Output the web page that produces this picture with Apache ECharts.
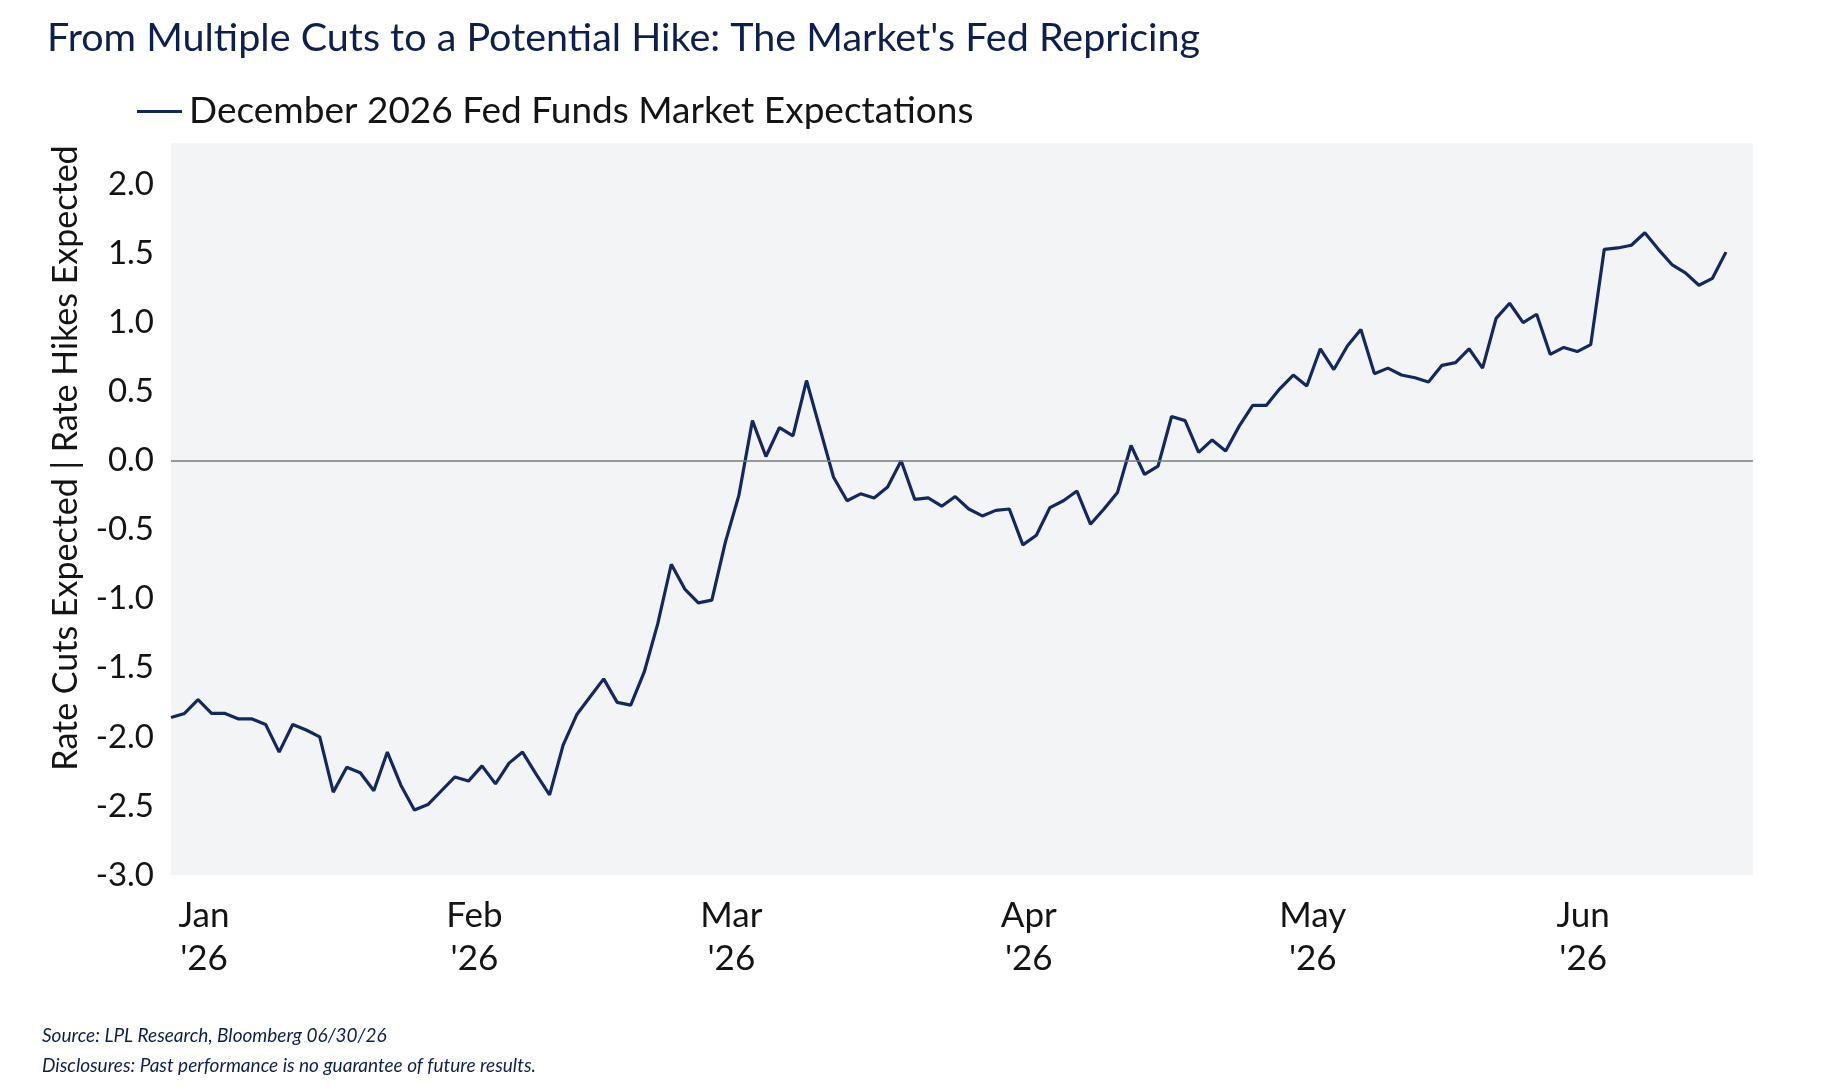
<!DOCTYPE html>
<html>
<head>
<meta charset="utf-8">
<title>From Multiple Cuts to a Potential Hike</title>
<script src="https://cdn.jsdelivr.net/npm/echarts@6.0.0/dist/echarts.min.js"></script>
<style>
  html, body { margin: 0; padding: 0; background: #ffffff; }
  #chart { width: 1826px; height: 1090px; }
</style>
</head>
<body>
<div id="chart"></div>
<script>
// trading days (business days) per month, 2026
const janDays = [2, 5, 6, 7, 8, 9, 12, 13, 14, 15, 16, 20, 21, 22, 23, 26, 27, 28, 29, 30];
const febDays = [2, 3, 4, 5, 6, 9, 10, 11, 12, 13, 17, 18, 19, 20, 23, 24, 25, 26, 27];
const marDays = [2, 3, 4, 5, 6, 9, 10, 11, 12, 13, 16, 17, 18, 19, 20, 23, 24, 25, 26, 27, 30, 31];
const aprDays = [1, 2, 6, 7, 8, 9, 10, 13, 14, 15, 16, 17, 20, 21, 22, 23, 24, 27, 28, 29, 30];
const mayDays = [1, 4, 5, 6, 7, 8, 11, 12, 13, 14, 15, 18, 19, 20, 21, 22, 26, 27, 28, 29];
const junDays = [1, 2, 3, 4, 5, 8, 9, 10, 11, 12, 15, 16, 17, 18, 22, 23];

const monthNames = ['Jan', 'Feb', 'Mar', 'Apr', 'May', 'Jun'];
const yearLabel = "'26";

// December 2026 fed funds: number of 25bp moves priced
const fedExpectations = [
  -1.86, -1.83, -1.73, -1.83, -1.83, -1.87, -1.87, -1.91, -2.11, -1.91,
  -1.95, -2.00, -2.40, -2.22, -2.26, -2.39, -2.11, -2.35, -2.53, -2.49,
  -2.39, -2.29, -2.32, -2.21, -2.34, -2.19, -2.11, -2.27, -2.42, -2.06,
  -1.84, -1.71, -1.58, -1.75, -1.77, -1.53, -1.18, -0.75, -0.93, -1.03,
  -1.01, -0.59, -0.25, 0.29, 0.03, 0.24, 0.18, 0.58, 0.23, -0.12,
  -0.29, -0.24, -0.27, -0.19, 0.00, -0.28, -0.27, -0.33, -0.26, -0.35,
  -0.40, -0.36, -0.35, -0.61, -0.54, -0.34, -0.29, -0.22, -0.46, -0.35,
  -0.23, 0.11, -0.10, -0.04, 0.32, 0.29, 0.06, 0.15, 0.07, 0.25,
  0.40, 0.40, 0.52, 0.62, 0.54, 0.81, 0.66, 0.83, 0.95, 0.63,
  0.67, 0.62, 0.60, 0.57, 0.69, 0.71, 0.81, 0.67, 1.03, 1.14,
  1.00, 1.06, 0.77, 0.82, 0.79, 0.84, 1.53, 1.54, 1.56, 1.65,
  1.53, 1.42, 1.36, 1.27, 1.32, 1.51
];

const pad = (n) => String(n).padStart(2, '0');
const tradingDates = [janDays, febDays, marDays, aprDays, mayDays, junDays]
  .flatMap((days, m) => days.map((d) => `2026-${pad(m + 1)}-${pad(d)}`));

const FONT = 'Lato';
const NAVY = '#0d1f4e';
const TEXT = '#141414';

const chart = echarts.init(document.getElementById('chart'));

const option = {
  animation: false,
  textStyle: { fontFamily: FONT },
  title: {
    text: "From Multiple Cuts to a Potential Hike: The Market's Fed Repricing",
    left: 42,
    top: 13,
    textStyle: { fontFamily: FONT, fontSize: 39.5, fontWeight: 'normal', color: NAVY }
  },
  legend: {
    left: 137,
    top: 93,
    padding: 0,
    icon: 'rect',
    itemWidth: 45,
    itemHeight: 3,
    itemGap: 10,
    textStyle: { fontFamily: FONT, fontSize: 37, color: TEXT, padding: [0, 0, 0, 2] },
    data: ['December 2026 Fed Funds Market Expectations']
  },
  grid: {
    left: 171,
    right: 73,
    top: 143,
    bottom: 215,
    show: true,
    backgroundColor: '#f3f4f6',
    borderWidth: 0
  },
  xAxis: {
    type: 'category',
    boundaryGap: false,
    data: tradingDates,
    axisLine: { show: false },
    axisTick: { show: false },
    splitLine: { show: false },
    axisLabel: {
      interval: (idx, value) => idx === 0 || value.slice(5, 7) !== tradingDates[idx - 1].slice(5, 7),
      formatter: (value) => monthNames[Number(value.slice(5, 7)) - 1] + '\n' + yearLabel,
      fontFamily: FONT,
      fontSize: 35,
      lineHeight: 43,
      color: TEXT,
      margin: 19,
      padding: [0, 0, 0, 66]
    }
  },
  yAxis: {
    type: 'value',
    min: -3,
    max: 2.3,
    interval: 0.5,
    name: 'Rate Cuts Expected | Rate Hikes Expected',
    nameLocation: 'middle',
    nameGap: 88,
    nameTextStyle: { fontFamily: FONT, fontSize: 34, color: TEXT, padding: [0, 0, 0, 102] },
    axisLine: { show: false },
    axisTick: { show: false },
    splitLine: { show: false },
    axisLabel: {
      formatter: (v) => v.toFixed(1),
      showMaxLabel: false,
      fontFamily: FONT,
      fontSize: 33,
      color: TEXT,
      margin: 17
    }
  },
  series: [{
    name: 'December 2026 Fed Funds Market Expectations',
    type: 'line',
    data: fedExpectations,
    showSymbol: false,
    symbol: 'none',
    lineStyle: { color: '#12295f', width: 3.2 },
    itemStyle: { color: '#12295f' },
    markLine: {
      silent: true,
      symbol: 'none',
      label: { show: false },
      lineStyle: { color: '#7a7a7a', width: 1.5, type: 'solid' },
      data: [{ yAxis: 0 }]
    }
  }],
  graphic: [
    {
      type: 'text',
      left: 42,
      top: 1026,
      style: { text: 'Source: LPL Research, Bloomberg 06/30/26', font: 'italic 19px Lato', fill: NAVY }
    },
    {
      type: 'text',
      left: 42,
      top: 1056,
      style: { text: 'Disclosures: Past performance is no guarantee of future results.', font: 'italic 19px Lato', fill: NAVY }
    }
  ]
};

chart.setOption(option);

window.addEventListener('resize', () => chart.resize());
</script>
</body>
</html>
